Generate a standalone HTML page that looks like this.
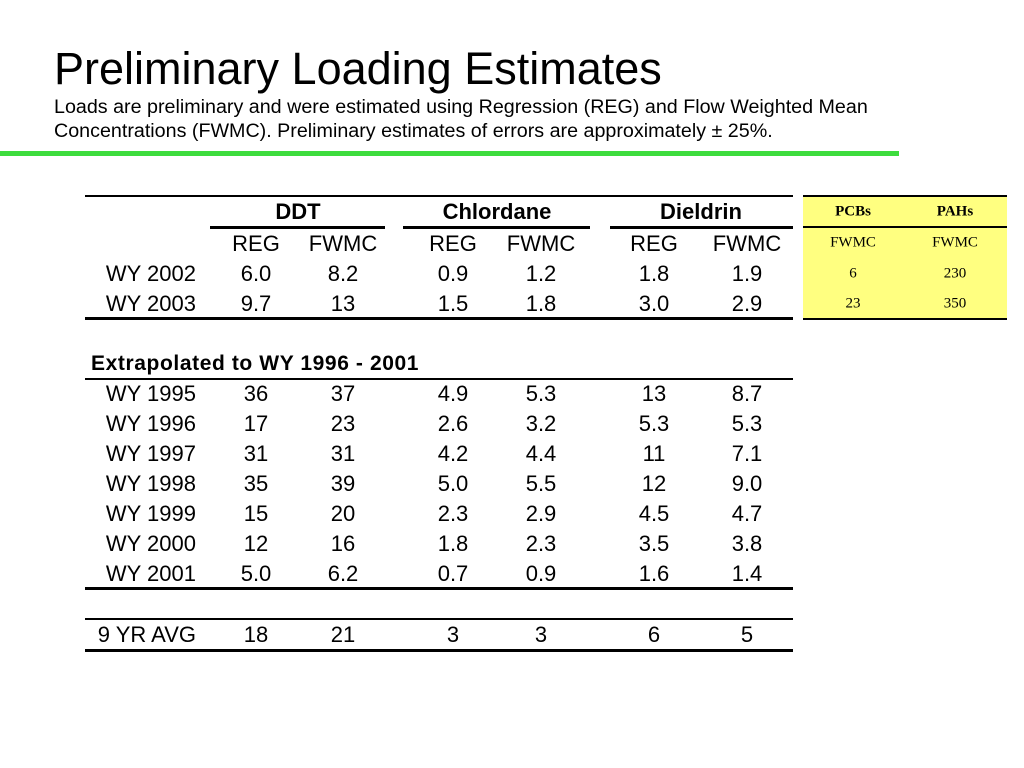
<!DOCTYPE html>
<html><head><style>
body{margin:0;width:1024px;height:768px;background:#fff;position:relative;overflow:hidden;font-family:"Liberation Sans",Arial,sans-serif;color:#000}
.a{position:absolute;white-space:nowrap}
.t{font-size:22px;line-height:24px;transform:translate(-50%,-50%)}
.r{font-size:22px;line-height:24px;transform:translateY(-50%);text-align:right;width:130px}
.l{position:absolute;background:#000}
.y{font-family:"Liberation Serif",serif;font-size:15px;transform:translate(-50%,-50%)}
</style></head><body>
<div class="a" style="left:54px;top:42px;font-size:45px;line-height:54px">Preliminary Loading Estimates</div>
<div class="a" style="left:54px;top:95px;font-size:19.7px;line-height:24px">Loads are preliminary and were estimated using Regression (REG) and Flow Weighted Mean<br>Concentrations (FWMC). Preliminary estimates of errors are approximately ± 25%.</div>
<div class="a" style="left:0;top:151px;width:899px;height:5px;background:#3ddc3d"></div>

<div class="a" style="left:803px;top:196px;width:204px;height:123px;background:#ffff80"></div>
<div class="l" style="left:803px;top:195px;width:204px;height:2px"></div>
<div class="l" style="left:803px;top:226px;width:204px;height:2px"></div>
<div class="l" style="left:803px;top:318px;width:204px;height:2px"></div>
<div class="a y" style="left:853px;top:212px;font-weight:bold">PCBs</div>
<div class="a y" style="left:955px;top:212px;font-weight:bold">PAHs</div>
<div class="a y" style="left:853px;top:243px">FWMC</div>
<div class="a y" style="left:955px;top:243px">FWMC</div>
<div class="a y" style="left:853px;top:274px">6</div>
<div class="a y" style="left:955px;top:274px">230</div>
<div class="a y" style="left:853px;top:304px">23</div>
<div class="a y" style="left:955px;top:304px">350</div>

<div class="l" style="left:85px;top:195px;width:708px;height:2px"></div>
<div class="l" style="left:210px;top:226px;width:175px;height:3px"></div>
<div class="l" style="left:403px;top:226px;width:187px;height:3px"></div>
<div class="l" style="left:610px;top:226px;width:183px;height:3px"></div>
<div class="l" style="left:85px;top:317px;width:708px;height:3px"></div>
<div class="l" style="left:85px;top:378px;width:708px;height:2px"></div>
<div class="l" style="left:85px;top:587px;width:708px;height:3px"></div>
<div class="l" style="left:85px;top:618px;width:708px;height:2px"></div>
<div class="l" style="left:85px;top:649px;width:708px;height:3px"></div>

<div class="a t" style="left:298px;top:212px;font-weight:bold">DDT</div>
<div class="a t" style="left:497px;top:212px;font-weight:bold">Chlordane</div>
<div class="a t" style="left:701px;top:212px;font-weight:bold">Dieldrin</div>
<div class="a" style="left:91px;top:352px;font-size:21px;line-height:24px;font-weight:bold;letter-spacing:0.6px">Extrapolated to WY 1996 - 2001</div>
<div id="rows"></div>
<script>
var cx=[256,343,453,541,654,747];
var rows=[[244,"",["REG","FWMC","REG","FWMC","REG","FWMC"]],
[274,"WY 2002",["6.0","8.2","0.9","1.2","1.8","1.9"]],
[304,"WY 2003",["9.7","13","1.5","1.8","3.0","2.9"]],
[394,"WY 1995",["36","37","4.9","5.3","13","8.7"]],
[424,"WY 1996",["17","23","2.6","3.2","5.3","5.3"]],
[454,"WY 1997",["31","31","4.2","4.4","11","7.1"]],
[484,"WY 1998",["35","39","5.0","5.5","12","9.0"]],
[514,"WY 1999",["15","20","2.3","2.9","4.5","4.7"]],
[544,"WY 2000",["12","16","1.8","2.3","3.5","3.8"]],
[574,"WY 2001",["5.0","6.2","0.7","0.9","1.6","1.4"]],
[635,"9 YR AVG",["18","21","3","3","6","5"]]];
var h="";
rows.forEach(function(r){
 if(r[1])h+='<div class="a r" style="left:66px;top:'+r[0]+'px">'+r[1]+'</div>';
 r[2].forEach(function(v,i){h+='<div class="a t" style="left:'+cx[i]+'px;top:'+r[0]+'px">'+v+'</div>';});
});
document.getElementById("rows").innerHTML=h;
</script>
</body></html>
